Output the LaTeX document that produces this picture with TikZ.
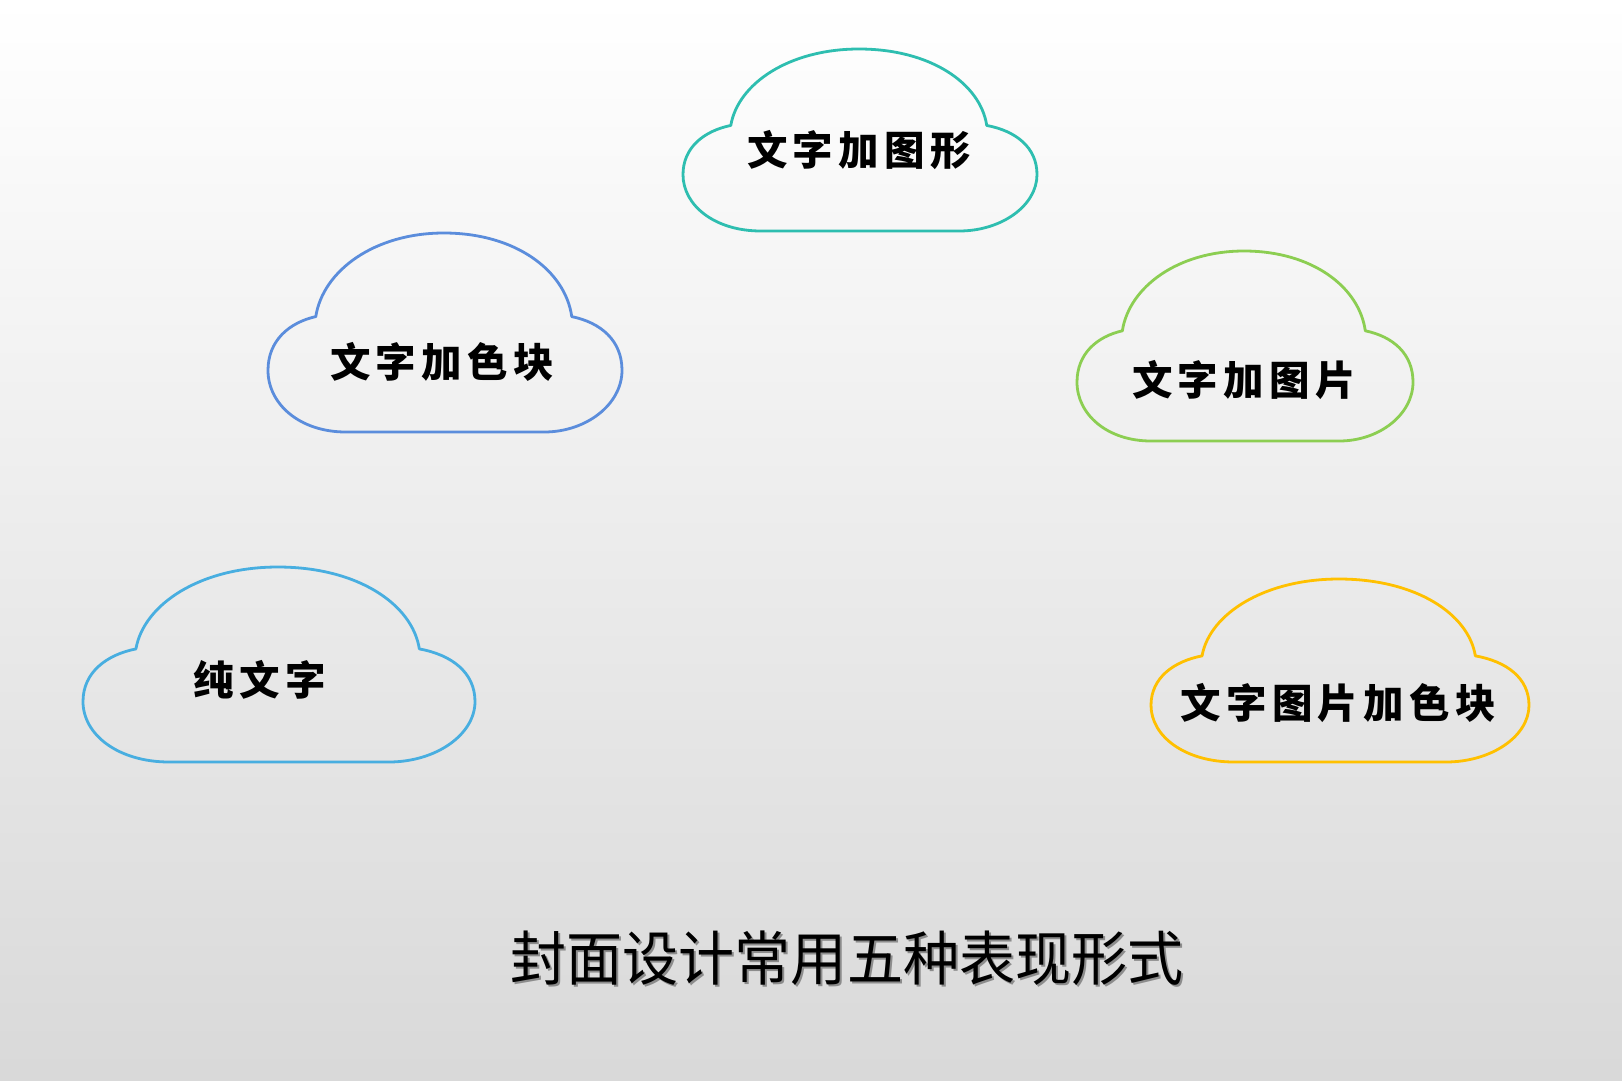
\documentclass[tikz,border=0pt]{standalone}
\usepackage{fontspec}
\newfontfamily\cjk{Noto Sans CJK SC}
\newfontfamily\cjkbold[LetterSpace=13]{Noto Sans CJK SC Black}
\definecolor{cteal}{RGB}{46,190,176}
\definecolor{cblue}{RGB}{91,141,220}
\definecolor{cgreen}{RGB}{140,206,82}
\definecolor{csky}{RGB}{72,174,224}
\definecolor{cgold}{RGB}{255,192,0}

\begin{document}
\begin{tikzpicture}[x=1pt,y=-1pt,
    cloudline/.style={line width=2.8pt,line join=round},
    cloudtext/.style={font=\cjkbold\fontsize{40.5}{44}\selectfont,inner sep=0pt}]
    \useasboundingbox (0,0) rectangle (1622,1080);
    \shade[top color=white,bottom color=black!15] (0,0) rectangle (1622,1080);
    \foreach \l/\t/\r/\b/\c/\n/\txt/\tx/\ty in {
        683/49/1037/231/cteal/tuxing/文字加图形/859/150,
        268/233/622/432/cblue/sekuai/文字加色块/442/362,
        1077/251/1413/441/cgreen/tupian/文字加图片/1244/380,
        83/567/475/762/csky/chun/纯文字/260/680,
        1151/579/1529/762/cgold/quanbu/文字图片加色块/1338/703}{
      \begin{scope}[shift={(\l,\t)},xscale=\r-\l,yscale=\b-\t]
        \draw[cloudline,\c](0.22,1)--(0.78,1)
          .. controls (0.90,1) and (1,0.86) .. (1,0.69)
          .. controls (1,0.54) and (0.94,0.45) .. (0.858,0.42)
          .. controls (0.84,0.19) and (0.70,0) .. (0.497,0)
          .. controls (0.30,0) and (0.155,0.19) .. (0.135,0.42)
          .. controls (0.06,0.45) and (0,0.54) .. (0,0.69)
          .. controls (0,0.86) and (0.09,1) .. (0.22,1)--cycle;
      \end{scope}
      \node[cloudtext](\n) at (\tx,\ty){\txt};
    }
    \node[font=\cjk\fontsize{59}{64}\selectfont,text=black!45,inner sep=0pt](titleshadow) at (849,960.5){\scalebox{0.95}[1]{封面设计常用五种表现形式}};
    \node[font=\cjk\fontsize{59}{64}\selectfont,inner sep=0pt](title) at (847,958.5){\scalebox{0.95}[1]{封面设计常用五种表现形式}};
  \end{tikzpicture}
\end{document}
